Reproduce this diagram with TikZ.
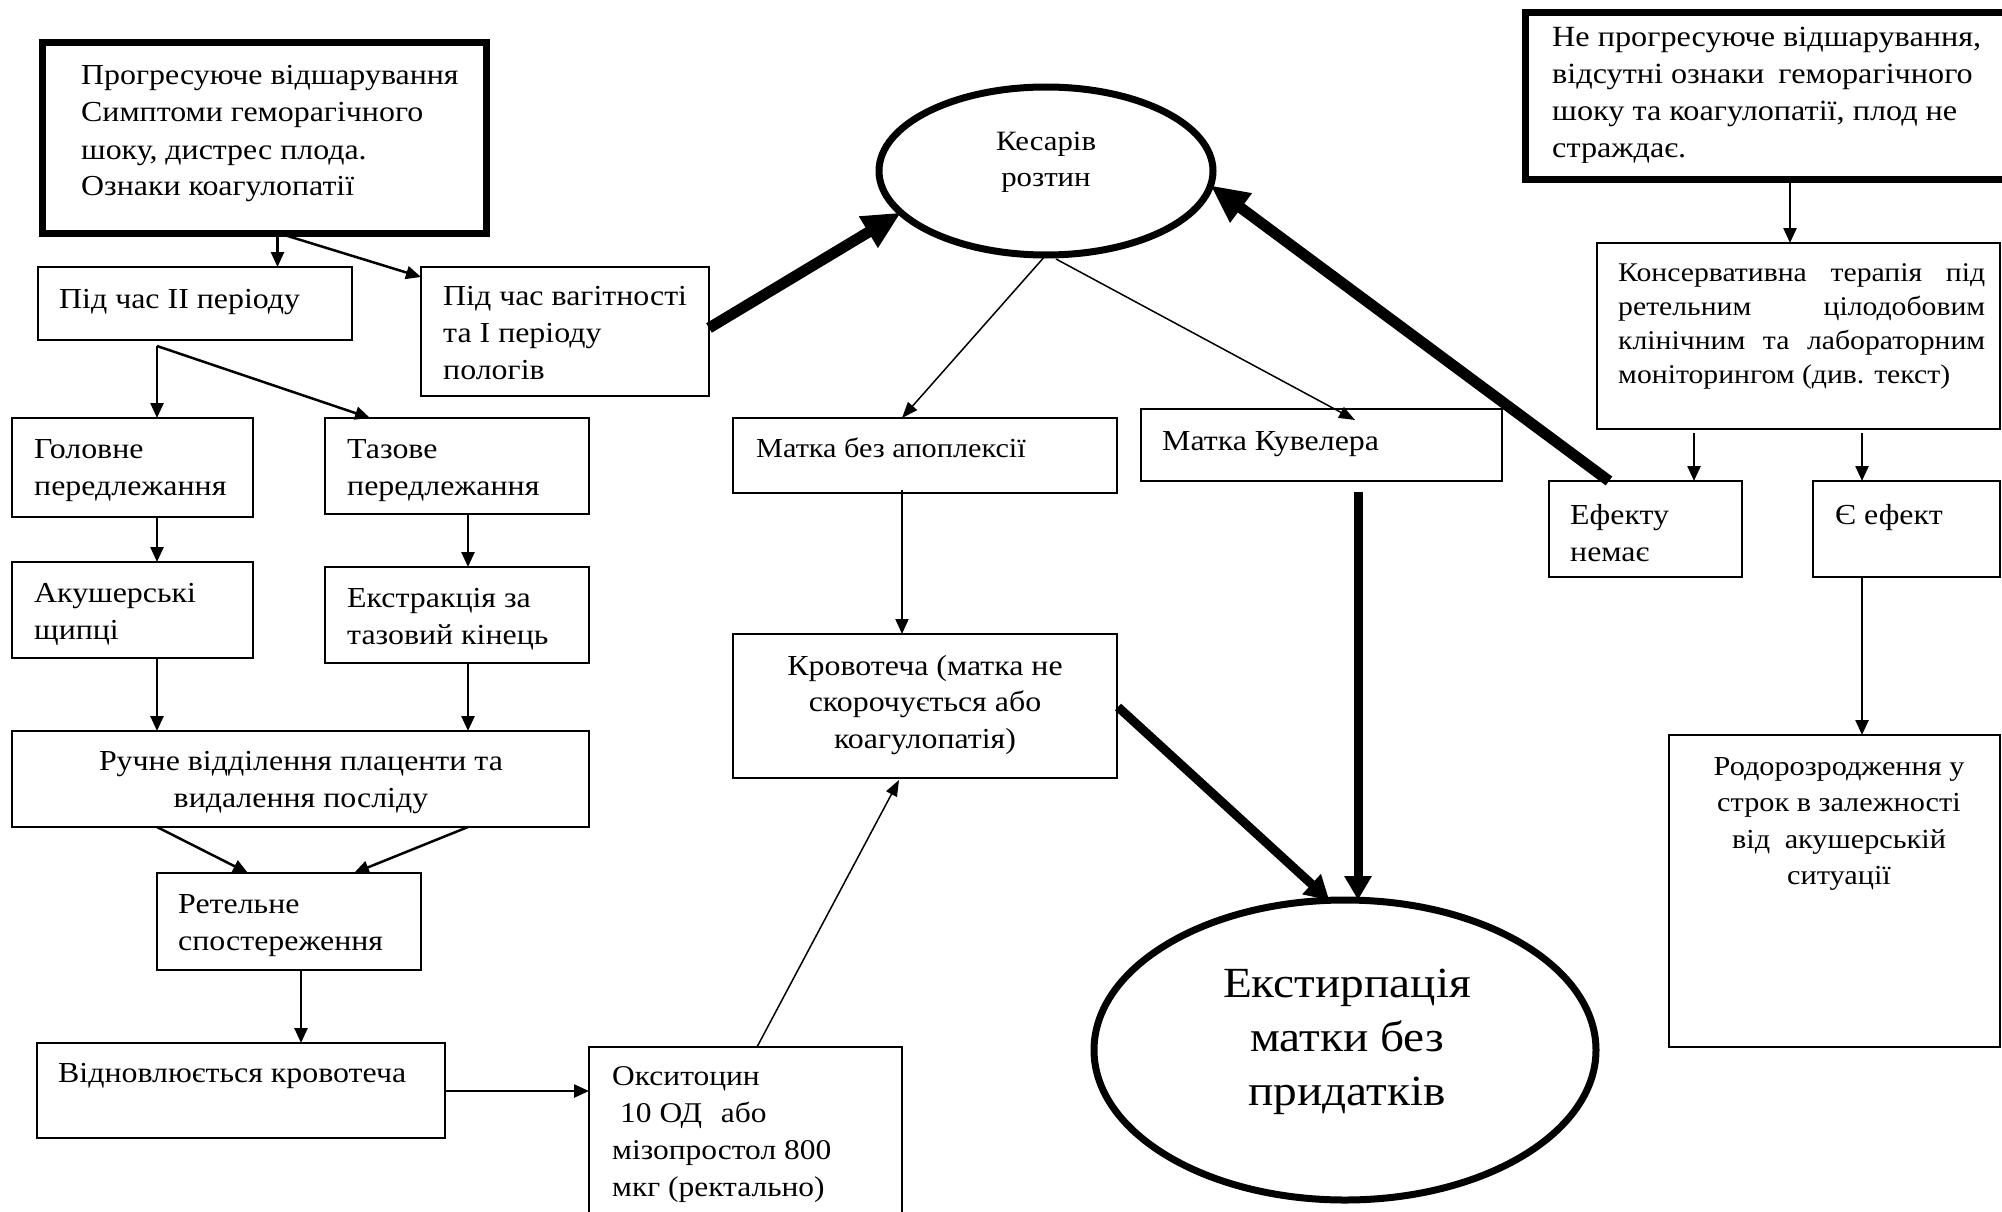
\documentclass[tikz,border=0pt]{standalone}
\usepackage{fontspec}
\setmainfont{Liberation Serif}[FakeStretch=1.1]
\usetikzlibrary{shapes.geometric,arrows.meta,calc}

% multi-line text blocks whose first baseline is the node's base
\newcommand\rows[1]{\begin{tabular}[t]{@{}l@{}}#1\end{tabular}}
\newcommand\crows[1]{\begin{tabular}[t]{@{}c@{}}#1\end{tabular}}

\begin{document}
\begin{tikzpicture}[x=1pt,y=-1pt,
  box/.style={draw, rectangle, line width=2pt, inner sep=0pt, outer sep=0pt, anchor=north west},
  thickbox/.style={box, line width=7pt},
  oval/.style={draw, ellipse, line width=7pt, inner sep=0pt, outer sep=0pt},
  txt/.style={anchor=base west, inner sep=0pt, font=\fontsize{29}{37}\selectfont},
  ctxt/.style={txt, anchor=base},
  arr/.style={line width=2.5pt, -{Triangle[length=15pt,width=13pt]}},
  thinarr/.style={line width=1.5pt, -{Triangle[length=16pt,width=12pt]}},
  heavy/.style={line width=9pt, -{Triangle[length=24pt,width=26pt]}},
  heavier/.style={line width=11pt, -{Triangle[length=38pt,width=34pt]}}]

\useasboundingbox (0,0) rectangle (2002,1212);
\fill[white] (0,0) rectangle (2002,1212);
\clip (0,0) rectangle (2002,1212);

% ---------- left branch: progressive abruption ----------
\node[thickbox, minimum width=444pt, minimum height=191pt] (A) at (42.5,42.5) {};
\node[box, minimum width=314pt, minimum height=73pt]  (P2)    at (38,267)  {};
\node[box, minimum width=288pt, minimum height=129pt] (PV)    at (421,267) {};
\node[box, minimum width=241pt, minimum height=99pt]  (Gol)   at (12,418)  {};
\node[box, minimum width=264pt, minimum height=96pt]  (Taz)   at (325,418) {};
\node[box, minimum width=241pt, minimum height=96pt]  (Aku)   at (12,562)  {};
\node[box, minimum width=264pt, minimum height=96pt]  (Ekstr) at (325,567) {};
\node[box, minimum width=577pt, minimum height=96pt]  (Ruch)  at (12,731)  {};
\node[box, minimum width=264pt, minimum height=97pt]  (Ret)   at (157,873) {};
\node[box, minimum width=408pt, minimum height=95pt]  (Vidn)  at (37,1043) {};
\node[box, minimum width=313pt, minimum height=200pt] (Oks)   at (589,1047) {};

% ---------- centre: caesarean section ----------
\node[oval, minimum width=334pt, minimum height=168pt] (Kes) at (1046,171) {};
\node[box, minimum width=384pt, minimum height=75pt]  (MB)   at (733,418)  {};
\node[box, minimum width=361pt, minimum height=72pt]  (MK)   at (1141,409) {};
\node[box, minimum width=384pt, minimum height=144pt] (Krov) at (733,634)  {};
\node[oval, minimum width=502pt, minimum height=300pt] (Ekst) at (1345,1050) {};

% ---------- right branch: non-progressive abruption ----------
\node[thickbox, minimum width=487pt, minimum height=166pt] (R1) at (1525,13) {};
\node[box, minimum width=403pt, minimum height=186pt] (Kons) at (1597,243) {};
\node[box, minimum width=193pt, minimum height=96pt]  (EN)   at (1549,481) {};
\node[box, minimum width=187pt, minimum height=96pt]  (EE)   at (1813,481) {};
\node[box, minimum width=331pt, minimum height=312pt] (Rodo) at (1669,735) {};

% ---------- texts ----------
\node[txt] (At) at (81,85) {\rows{Прогресуюче відшарування\\Симптоми геморагічного\\шоку, дистрес плода.\\Ознаки коагулопатії}};
\node[txt] (P2t) at (59,308) {Під час II періоду};
\node[txt] (PVt) at (443,305) {\rows{Під час вагітності\\та I періоду\\пологів}};
\node[txt] (Golt) at (34,458) {\rows{Головне\\передлежання}};
\node[txt] (Tazt) at (347,458) {\rows{Тазове\\передлежання}};
\node[txt] (Akut) at (34,602) {\rows{Акушерські\\щипці}};
\node[txt] (Ekstrt) at (347,607) {\rows{Екстракція за\\тазовий кінець}};
\node[ctxt] (Rucht) at (301,770) {\crows{Ручне відділення плаценти та\\видалення посліду}};
\node[txt] (Rett) at (178,913) {\rows{Ретельне\\спостереження}};
\node[txt] (Vidnt) at (58,1082) {Відновлюється кровотеча};
\node[txt, font=\fontsize{28.6}{37.3}\selectfont] (Okst) at (612,1085)
  {\rows{Окситоцин\\\hspace*{8pt}10 ОД\hspace{11pt} або\\мізопростол 800\\мкг (ректально)}};

\node[ctxt, font=\fontsize{28}{36}\selectfont] (Kest) at (1046,150) {\crows{Кесарів\\розтин}};
\node[txt, font=\fontsize{27.5}{37}\selectfont] (MBt) at (756,457) {Матка без апоплексії};
\node[txt] (MKt) at (1162,450) {Матка Кувелера};
\node[ctxt, font=\fontsize{29}{36.5}\selectfont] (Krovt) at (925,675)
  {\crows{Кровотеча (матка не\\скорочується або\\коагулопатія)}};
\node[ctxt, font=\fontsize{43}{54}\selectfont] (Ekstt) at (1347,997)
  {\crows{Екстирпація\\матки без\\придатків}};

\begin{scope}
  \clip (1529,17) rectangle (2002,162);
  \node[txt, font=\fontsize{29.3}{36.7}\selectfont] (R1t) at (1552,47)
    {\rows{Не прогресуюче відшарування,\\відсутні ознаки\hspace{6pt} геморагічного\\шоку та коагулопатії, плод не\\страждає.}};
\end{scope}
\node[txt, font=\fontsize{27}{34.3}\selectfont] (Konst) at (1618,281)
  {\rows{\makebox[367pt][s]{Консервативна терапія під}\\
         \makebox[367pt][s]{ретельним цілодобовим}\\
         \makebox[367pt][s]{клінічним та лабораторним}\\
         моніторингом (див. текст)}};
\node[txt] (ENt) at (1570,524) {\rows{Ефекту\\немає}};
\node[txt] (EEt) at (1835,524) {Є ефект};
\node[ctxt, font=\fontsize{27.5}{36.5}\selectfont] (Rodot) at (1839,775)
  {\crows{Родорозродження у\\строк в залежності\\від\hspace{7pt} акушерській\\ситуації}};

% ---------- connectors: left branch ----------
\coordinate (ja) at ($(A.south)+(13,0)$);
\draw[arr] (ja) -- (ja |- P2.north);
\draw[arr] ($(A.south)+(15,0)$) -- ($(PV.north west)+(0,10)$);
\coordinate (j2) at ($(P2.south west)+(119,6)$);
\draw[arr] (j2) -- (j2 |- Gol.north);
\draw[arr] (j2) -- ($(Taz.north west)+(45,0)$);
\draw[arr] ($(Gol.south west)+(145,0)$) -- ($(Aku.north west)+(145,0)$);
\draw[arr] ($(Taz.south west)+(143,0)$) -- ($(Ekstr.north west)+(143,0)$);
\draw[arr] ($(Aku.south west)+(145,0)$) -- ($(Ruch.north west)+(145,0)$);
\draw[arr] ($(Ekstr.south west)+(143,0)$) -- ($(Ruch.north west)+(456,0)$);
\draw[arr] ($(Ruch.south west)+(145,0)$) -- ($(Ret.north west)+(91,0)$);
\draw[arr] ($(Ruch.south west)+(456,0)$) -- ($(Ret.north west)+(197,0)$);
\draw[arr] ($(Ret.south west)+(144,0)$) -- ($(Vidn.north west)+(264,0)$);
\draw[arr] ($(Vidn.north east)+(0,48)$) -- ($(Oks.north west)+(0,44)$);
\draw[thinarr] ($(Oks.north west)+(168,0)$) -- ($(Krov.south west)+(166,2)$);

% ---------- connectors: centre ----------
\draw[heavier] ($(PV.north east)+(0,61)$) -- (Kes.196);
\draw[thinarr] (Kes.south) -- ($(MB.north west)+(169,0)$);
\draw[thinarr] ($(Kes.south)+(10,4)$) -- ($(MK.north west)+(214,11)$);
\draw[arr, line width=2pt] ($(MB.south west)+(169,-3)$) -- ($(Krov.north west)+(169,0)$);
\draw[heavy] ($(Krov.north east)+(1,73)$) -- (Ekst.96);
\coordinate (mk) at ($(MK.south west)+(217,11)$);
\draw[heavy] (mk) -- (mk |- Ekst.north);

% ---------- connectors: right branch ----------
\draw[arr] ($(R1.south west)+(265,0)$) -- ($(Kons.north west)+(193,0)$);
\draw[arr] ($(Kons.south west)+(97,4)$) -- ($(EN.north west)+(145,0)$);
\draw[arr] ($(Kons.south west)+(265,4)$) -- ($(EE.north west)+(49,0)$);
\draw[arr] ($(EE.south west)+(49,0)$) -- ($(Rodo.north west)+(193,0)$);
\draw[heavier] ($(EN.north west)+(60,0)$) -- (Kes.355);
\end{tikzpicture}
\end{document}
